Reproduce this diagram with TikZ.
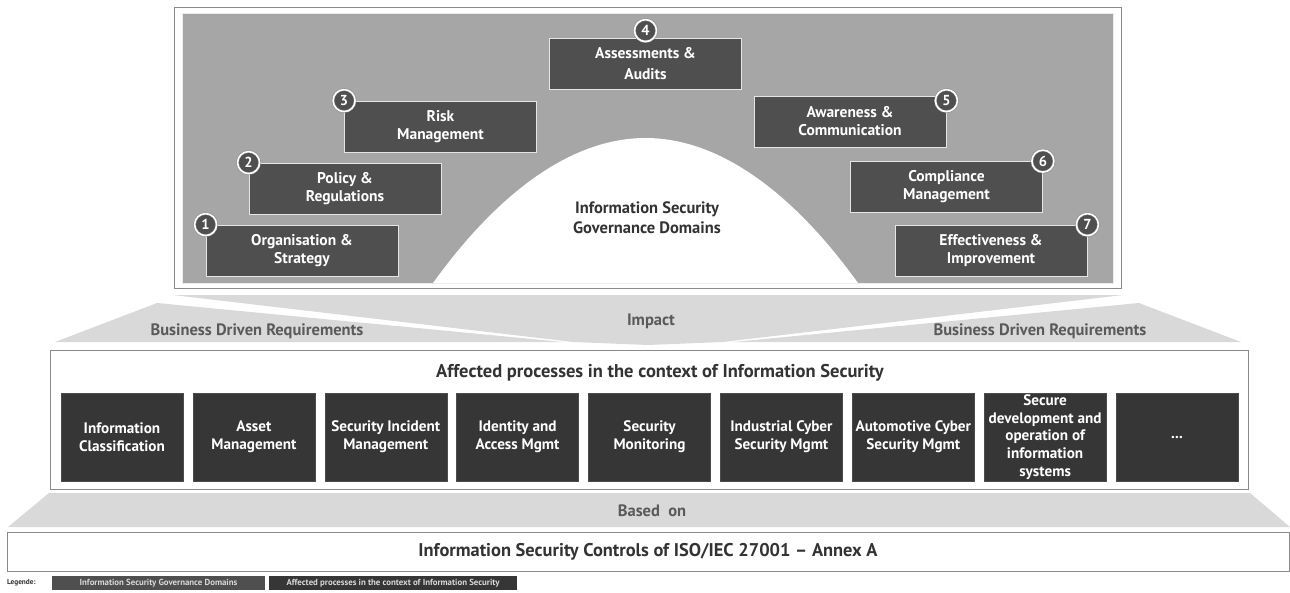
\documentclass[tikz,border=0pt]{standalone}
\usepackage{fontspec}
\setmainfont{PT Sans}
\definecolor{topgray}{HTML}{A6A6A6}
\definecolor{domfill}{HTML}{4F4F4F}
\definecolor{procfill}{HTML}{363636}
\definecolor{bandgray}{HTML}{D9D9D9}
\definecolor{bandtext}{HTML}{5A5A5A}
\definecolor{framegray}{HTML}{8A8A8A}
\definecolor{titletext}{HTML}{333333}
\tikzset{
  govbox/.style={rectangle, fill=domfill, draw=white!80!gray, line width=0.8pt,
    minimum width=192pt, minimum height=51pt, inner sep=0pt, text=white,
    align=center, font=\bfseries\fontsize{15.5}{18}\selectfont},
  badge/.style={circle, fill=domfill, draw=framegray, double=white,
    double distance=1.6pt, line width=0.5pt, minimum size=22pt, inner sep=0pt,
    text=white, font=\bfseries\fontsize{14.5}{14.5}\selectfont},
  procbox/.style={rectangle, fill=procfill, draw=gray!60!black, line width=0.5pt,
    minimum width=122pt, minimum height=88pt, inner sep=0pt, text=white,
    align=center, font=\bfseries\fontsize{15.2}{17.8}\selectfont},
  bandfill/.style={fill=bandgray},
  bandlabel/.style={text=bandtext, inner sep=0pt, font=\bfseries\fontsize{16.5}{16.5}\selectfont},
  panel/.style={rectangle, draw=framegray, line width=1pt, fill=white, inner sep=0pt},
  legendbox/.style={rectangle, inner sep=0pt, minimum height=14pt,
    text=white!85!black, font=\bfseries\fontsize{8.8}{8.8}\selectfont},
}
\begin{document}
\begin{tikzpicture}[x=1pt,y=-1pt]
\useasboundingbox (0,0) rectangle (1290,592);

% light grey bands between the layers
\fill[bandfill] (173,295) -- (1123,295) -- (723,342) -- (648,345) -- (573,342) -- cycle;
\fill[bandfill] (157,303) -- (563,342) -- (55,342) -- cycle;
\fill[bandfill] (1139,303) -- (733,342) -- (1241,342) -- cycle;
\fill[bandfill] (49,493) -- (1250,493) -- (1290,527) -- (8,527) -- cycle;

\node[bandlabel] (impact) at (651,321) {Impact};
\node[bandlabel] (bdrL) at (257,331) {Business Driven Requirements};
\node[bandlabel] (bdrR) at (1040,331) {Business Driven Requirements};
\node[bandlabel] (basedon) at (652,511) {Based\ \ on};

% governance panel
\node[panel, minimum width=947pt, minimum height=281pt] (govframe) at (647.5,147.5) {};
\node[rectangle, fill=topgray, draw=white!85!gray, line width=0.5pt, inner sep=0pt,
  minimum width=931pt, minimum height=270pt] (govarea) at (647.5,148) {};
\fill[white] (433,283) parabola bend (645.5,138) (858,283) -- cycle;
\node[text=titletext, align=center, font=\bfseries\fontsize{16.5}{20}\selectfont]
  (archtitle) at (647,218) {Information Security\\Governance Domains};

\node[govbox] (d1) at (302,250.5) {Organisation \&\\Strategy};
\node[govbox] (d2) at (345,188.5) {Policy \&\\Regulations};
\node[govbox] (d3) at (440.5,126.5) {Risk\\Management};
\node[govbox, font=\bfseries\fontsize{15.5}{21.5}\selectfont] (d4) at (645.5,63.5) {Assessments \&\\Audits};
\node[govbox] (d5) at (850,121.5) {Awareness \&\\Communication};
\node[govbox] (d6) at (946.5,187) {Compliance\\Management};
\node[govbox] (d7) at (991,250.5) {Effectiveness \&\\Improvement};

\node[badge] (n1) at (d1.north west) {1};
\node[badge] (n2) at (d2.north west) {2};
\node[badge] (n3) at (d3.north west) {3};
\node[badge] (n4) at ([yshift=7pt]d4.north) {4};
\node[badge] (n5) at ([yshift=-5pt]d5.north east) {5};
\node[badge] (n6) at (d6.north east) {6};
\node[badge] (n7) at (d7.north east) {7};

% affected processes
\node[panel, minimum width=1198pt, minimum height=139pt] (procpanel) at (649,419.5) {};
\node[text=titletext, inner sep=0pt, font=\bfseries\fontsize{18.5}{18.5}\selectfont]
  (proctitle) at (660,373) {Affected processes in the context of Information Security};

\node[procbox] (p1) at (122,437) {Information\\Classification};
\node[procbox] (p2) at (253.9,437) {Asset\\Management};
\node[procbox] (p3) at (385.8,437) {Security Incident\\Management};
\node[procbox] (p4) at (517.6,437) {Identity and\\Access Mgmt};
\node[procbox] (p5) at (649.5,437) {Security\\Monitoring};
\node[procbox] (p6) at (781.4,437) {Industrial Cyber\\Security Mgmt};
\node[procbox] (p7) at (913.3,437) {Automotive Cyber\\Security Mgmt};
\node[procbox] (p8) at (1045.1,437) {Secure\\development and\\operation of\\information\\systems};
\node[procbox] (p9) at (1177,437) {...};

% controls baseline
\node[panel, minimum width=1282pt, minimum height=39pt, text=titletext,
  font=\bfseries\fontsize{18.4}{18.4}\selectfont] (controls) at (648,551.5)
  {Information Security Controls of ISO/IEC 27001 -- Annex A};

% legend
\node[anchor=west, inner sep=0pt, text=titletext, font=\bfseries\fontsize{7.3}{7.3}\selectfont]
  (legtitle) at (7,583) {Legende:};
\node[legendbox, fill=domfill, minimum width=213pt] (leg1) at (158.5,583)
  {Information Security Governance Domains};
\node[legendbox, fill=procfill, minimum width=248pt] (leg2) at (393,583)
  {Affected processes in the context of Information Security};
\end{tikzpicture}
\end{document}
